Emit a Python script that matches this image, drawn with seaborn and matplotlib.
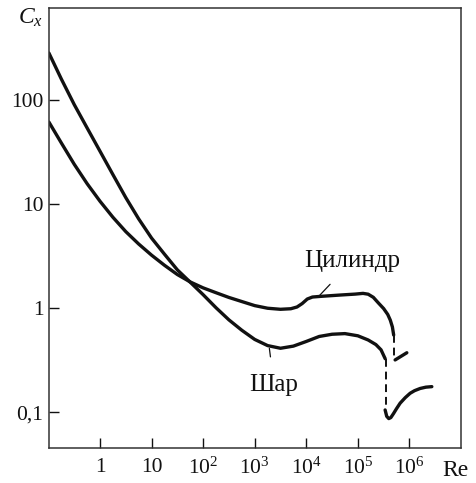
import matplotlib
matplotlib.use("Agg")
import matplotlib.pyplot as plt
import seaborn as sns
import pandas as pd

# Sphere (Шар)
sphere_re = [0.102, 0.178, 0.316, 0.562, 1, 1.78, 3.16, 5.62, 10, 17.8, 31.6, 56.2,
             100, 178, 316, 562, 1000, 1780, 3160, 5620, 1e4, 17800, 31600, 56200,
             1e5, 158500, 223900, 281800, 338800]
sphere_cx = [285.8, 160.3, 91.2, 54.3, 32.4, 19.3, 11.6, 7.24, 4.73, 3.31, 2.34, 1.78,
             1.35, 1.01, 0.773, 0.614, 0.501, 0.437, 0.412, 0.432, 0.479, 0.535, 0.562, 0.570,
             0.543, 0.495, 0.447, 0.398, 0.327]
sphere_gap_re = [345000, 345000]
sphere_gap_cx = [0.325, 0.107]
sphere_tail_re = [338100, 363100, 398100, 436500, 489800, 562300, 660700, 831800,
                  1.033e6, 1.259e6, 1.614e6, 2.089e6, 2.723e6]
sphere_tail_cx = [0.105, 0.0912, 0.0867, 0.0887, 0.0966, 0.108, 0.122, 0.138,
                  0.152, 0.161, 0.169, 0.174, 0.176]

# Cylinder (Цилиндр)
cyl_re = [0.102, 0.178, 0.316, 0.562, 1, 1.78, 3.16, 5.62, 10, 17.8, 31.6, 56.2,
          100, 178, 316, 562, 1000, 1780, 3160, 5010, 6610, 8320, 10470, 13180,
          18620, 45710, 89130, 125900, 158500, 199500, 251200, 316200, 380200,
          426600, 467700, 495500]
cyl_cx = [61.9, 38.9, 24.3, 15.8, 10.7, 7.50, 5.46, 4.15, 3.24, 2.59, 2.11, 1.79,
          1.57, 1.41, 1.27, 1.16, 1.06, 1.0, 0.977, 0.989, 1.028, 1.109, 1.227, 1.282,
          1.300, 1.340, 1.368, 1.390, 1.365, 1.274, 1.122, 0.993, 0.871,
          0.767, 0.661, 0.552]
cyl_gap_re = [505000, 505000]
cyl_gap_cx = [0.552, 0.318]
cyl_tail_re = [528400, 891300]
cyl_tail_cx = [0.318, 0.373]

xtick_vals = [1, 10, 1e2, 1e3, 1e4, 1e5, 1e6]
xtick_labels = ["1", "10", r"$\mathregular{10^2}$", r"$\mathregular{10^3}$",
                r"$\mathregular{10^4}$", r"$\mathregular{10^5}$", r"$\mathregular{10^6}$"]
ytick_vals = [0.1, 1, 10, 100]
ytick_labels = ["0,1", "1", "10", "100"]

sns.set_style("ticks")
plt.rcParams["font.family"] = ["Liberation Serif", "DejaVu Serif"]
plt.rcParams["mathtext.fontset"] = "custom"
plt.rcParams["mathtext.rm"] = "Liberation Serif"
plt.rcParams["mathtext.it"] = "Liberation Serif:italic"

ink = "#111111"
fig = plt.figure(figsize=(4.76, 4.83), dpi=100)
ax = fig.add_axes([0.1029, 0.0718, 0.8666, 0.9116])

solid = dict(color=ink, linewidth=2.4, sort=False, estimator=None, ax=ax)

for xs, ys in [(sphere_re, sphere_cx), (sphere_tail_re, sphere_tail_cx),
               (cyl_re, cyl_cx), (cyl_tail_re, cyl_tail_cx)]:
    line_df = pd.DataFrame({"Re": xs, "Cx": ys})
    sns.lineplot(data=line_df, x="Re", y="Cx", **solid)

# dashed jumps (drag crisis)
for xs, ys in [(sphere_gap_re, sphere_gap_cx), (cyl_gap_re, cyl_gap_cx)]:
    ax.plot(xs, ys, color=ink, linewidth=1.4, linestyle=(0, (4, 2.5)))

ax.set_xscale("log")
ax.set_yscale("log")
ax.set_xlim(10 ** -0.99, 10 ** 7.01)
ax.set_ylim(10 ** -1.348, 10 ** 2.889)
ax.set_xticks(xtick_vals)
ax.set_xticklabels(xtick_labels)
ax.set_yticks(ytick_vals)
ax.set_yticklabels(ytick_labels)
ax.minorticks_off()
ax.tick_params(direction="in", length=7, width=1, color=ink,
               labelsize=15.5, labelcolor=ink)
ax.tick_params(axis="x", pad=7)
ax.tick_params(axis="y", pad=4)
ax.set_xlabel("")
ax.set_ylabel("")
for s in ax.spines.values():
    s.set_linewidth(1.1)
    s.set_color("#333333")

# labels with leader lines
ax.annotate("Цилиндр", xy=(10 ** 4.235, 10 ** 0.111), xytext=(10 ** 4.889, 10 ** 0.455),
            ha="center", va="center", fontsize=18, color=ink,
            arrowprops=dict(arrowstyle="-", color=ink, lw=0.9, shrinkA=9, shrinkB=0))
ax.annotate("Шар", xy=(10 ** 3.284, 10 ** -0.386), xytext=(10 ** 3.375, 10 ** -0.738),
            ha="center", va="center", fontsize=18, color=ink,
            arrowprops=dict(arrowstyle="-", color=ink, lw=0.9, shrinkA=10, shrinkB=0))

ax.text(-0.015, 0.977, r"$C_x$", transform=ax.transAxes, ha="right", va="center",
        fontsize=17, color=ink)
ax.text(0.985, -0.05, "Re", transform=ax.transAxes, ha="center", va="center",
        fontsize=17, color=ink)

fig.savefig("out.png", dpi=100, facecolor="white")
